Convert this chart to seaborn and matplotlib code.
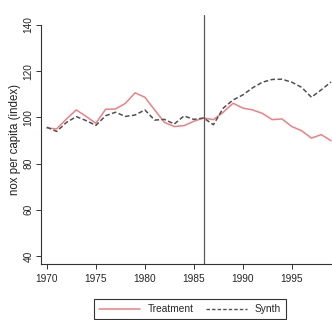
import pandas as pd
import seaborn as sns
import matplotlib.pyplot as plt
import numpy as np
from matplotlib.lines import Line2D

# values
years = list(range(1970, 2000))
treatment = [95.4, 95.0, 99.3, 103.2, 100.4, 97.4, 103.5, 103.6, 106.0, 110.6,
             108.7, 103.2, 97.8, 96.0, 96.4, 98.3, 99.7, 99.0, 102.2, 106.1,
             104.0, 103.2, 101.7, 99.0, 99.3, 96.0, 94.2, 91.0, 92.5, 89.9]
synth = [95.7, 93.9, 97.8, 100.3, 98.6, 96.5, 100.7, 102.2, 100.4, 101.0,
         103.2, 98.8, 99.1, 97.1, 100.6, 99.1, 99.7, 96.8, 104.0, 107.5,
         109.7, 112.8, 115.2, 116.4, 116.5, 115.2, 113.0, 108.7, 111.9, 115.3]
series_names = ['Treatment', 'Synth']
y_ticks = [40, 60, 80, 100, 120, 140]
x_ticks = [1970, 1975, 1980, 1985, 1990, 1995]
treat_year = 1986

df = pd.DataFrame({
    'year': years * 2,
    'value': treatment + synth,
    'series': ['Treatment'] * len(years) + ['Synth'] * len(years),
})

sns.set_style('ticks')
plt.rcParams['font.family'] = ['Liberation Sans', 'DejaVu Sans']

fig = plt.figure(figsize=(3.32, 3.20), dpi=100)
ax = fig.add_axes([41 / 332, 1 - 264 / 320, 1 - 41 / 332, (264 - 15) / 320])

sns.lineplot(data=df, x='year', y='value', hue='series', style='series',
             hue_order=series_names, style_order=series_names,
             palette={'Treatment': '#f07f84', 'Synth': '#505050'},
             dashes={'Treatment': '', 'Synth': (3, 1.6)},
             linewidth=1.1, ax=ax, legend=False)

ax.axvline(treat_year, color='#5a5a5a', linewidth=0.9)

ax.set_xlim(1969.4, 1999.1)
ax.set_ylim(36.5, 144.3)
ax.set_xticks(x_ticks)
ax.set_yticks(y_ticks)
ax.set_xticklabels([str(t) for t in x_ticks], fontsize=7.3)
ax.set_yticklabels([str(t) for t in y_ticks], fontsize=7.3, rotation=90, va='center')
ax.tick_params(axis='both', length=3.5, width=0.7, color='#333333')
ax.tick_params(axis='x', pad=4)
ax.tick_params(axis='y', pad=2)
ax.set_xlabel('')
ax.set_ylabel('nox per capita (index)', fontsize=8.3, labelpad=1.5, color='#222222')

ax.spines['top'].set_visible(False)
ax.spines['right'].set_visible(False)
ax.spines['left'].set_bounds(36.5, 140)
for s in ['left', 'bottom']:
    ax.spines[s].set_color('#333333')
    ax.spines[s].set_linewidth(0.8)

# legend below the plot, like the R original
handles = [Line2D([], [], color='#f07f84', lw=1.1),
           Line2D([], [], color='#505050', lw=1.0, dashes=(2.5, 1.5))]
leg = fig.legend(handles, series_names, loc='upper center',
                 bbox_to_anchor=(190 / 332, 1 - 294 / 320), ncol=2,
                 fontsize=7.3, frameon=True, fancybox=False, edgecolor='black',
                 handlelength=4, columnspacing=1.2, borderpad=0.5)
leg.get_frame().set_linewidth(0.8)

fig.savefig('out.png', dpi=100)
